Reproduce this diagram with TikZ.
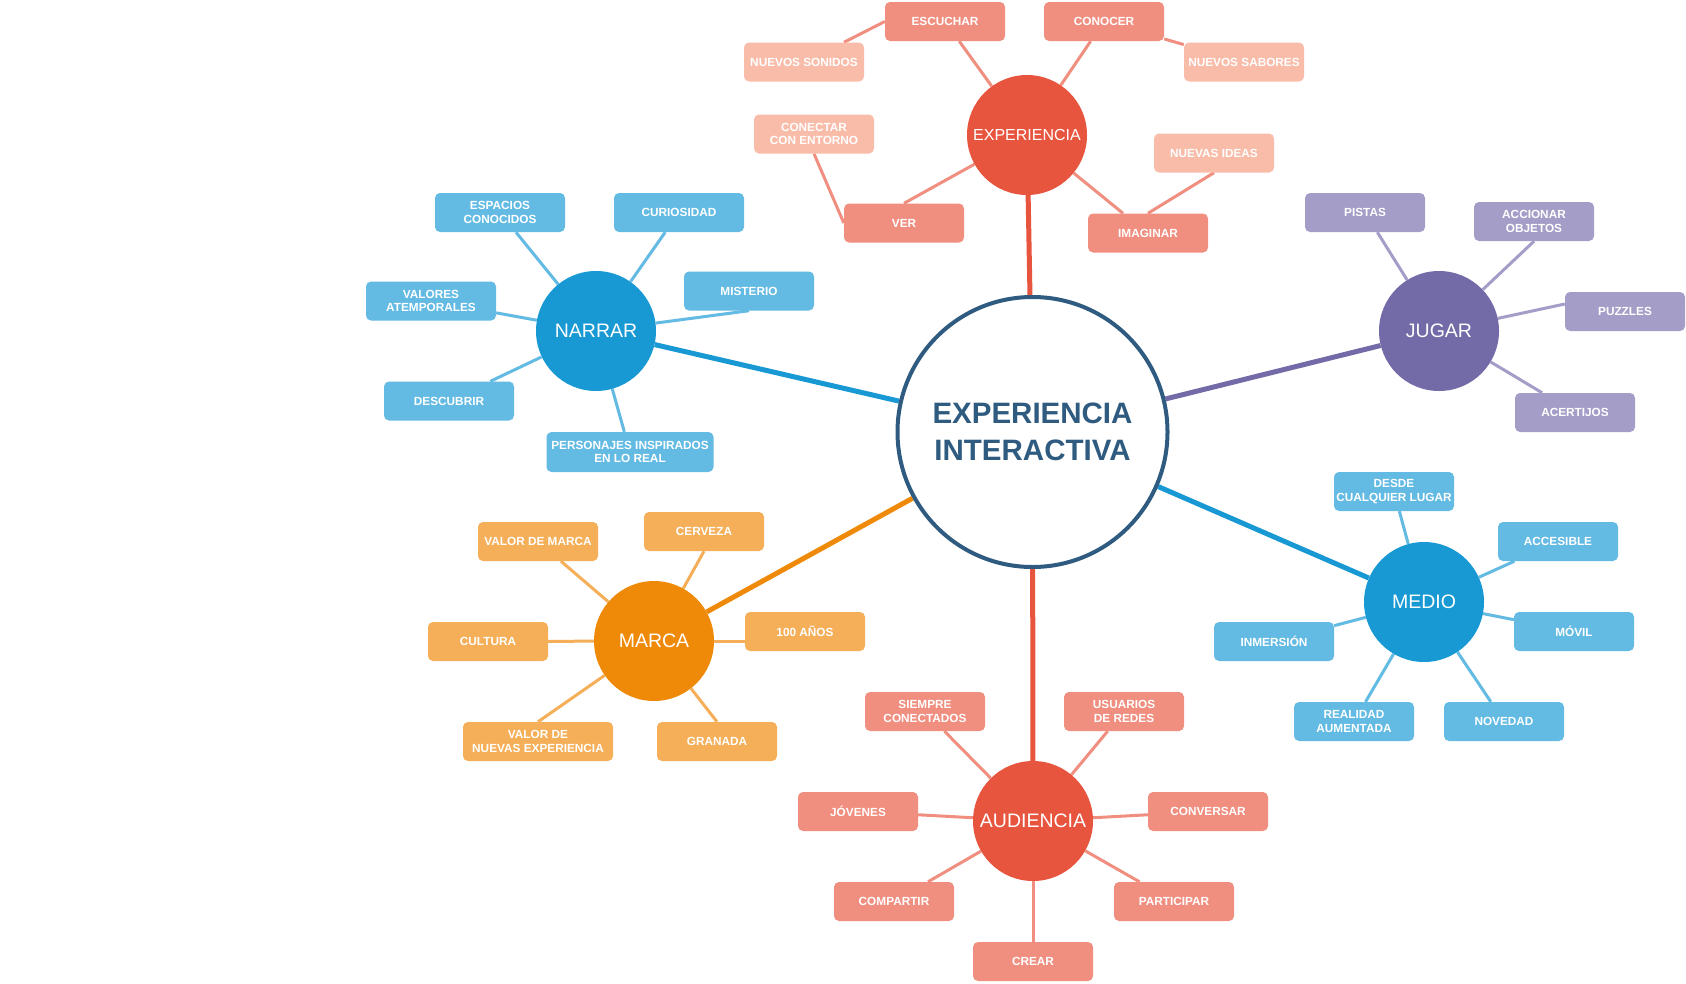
\documentclass[tikz,border=0pt]{standalone}
\usepackage{fontspec}
\setmainfont{Liberation Sans}
\usetikzlibrary{calc}
\pgfdeclarelayer{bottom}
\pgfdeclarelayer{background}
\pgfsetlayers{bottom,background,main}
\definecolor{cred}{HTML}{E8553F}
\definecolor{csal}{HTML}{F08E80}
\definecolor{clsal}{HTML}{F9BCA9}
\definecolor{cblue}{HTML}{1899D4}
\definecolor{clblue}{HTML}{63BAE3}
\definecolor{cpur}{HTML}{736BA7}
\definecolor{clpur}{HTML}{A39DC7}
\definecolor{corg}{HTML}{EF8A08}
\definecolor{clorg}{HTML}{F5AF59}
\definecolor{cnavy}{HTML}{2E5B7F}
\tikzset{
  box/.style={rounded corners=5pt, minimum width=120pt, minimum height=39pt, inner sep=0pt,
    align=center, text=white, font=\fontsize{11.8}{13.7}\selectfont\bfseries},
  wide/.style={minimum width=130pt},
  hub/.style={circle, minimum size=120pt, inner sep=0pt, text=white,
    font=\fontsize{19.5}{22}\selectfont},
  core/.style={circle, draw=cnavy, line width=4pt, fill=white, minimum size=270pt, inner sep=0pt,
    align=center, text=cnavy, font=\fontsize{29.5}{36.7}\selectfont\bfseries},
  mainln/.style={line width=5pt},
  subln/.style={line width=3pt},
}
\begin{document}
\begin{tikzpicture}[x=1pt,y=-1pt]
\begin{pgfonlayer}{bottom}
\fill[white] (0,0) rectangle (1686,983);
\end{pgfonlayer}
\useasboundingbox (0,0) rectangle (1686,983);

% core
\node[core] (core) at (1032.5,432) {EXPERIENCIA\\INTERACTIVA};

% EXPERIENCIA group
\node[hub, fill=cred, font=\fontsize{16}{18}\selectfont] (exp) at (1027,135) {EXPERIENCIA};
\node[box, fill=csal] (escuchar) at (945,21.5) {ESCUCHAR};
\node[box, fill=csal] (conocer) at (1104,21.5) {CONOCER};
\node[box, fill=clsal] (nsonidos) at (804,62) {NUEVOS SONIDOS};
\node[box, fill=clsal] (nsabores) at (1244,62) {NUEVOS SABORES};
\node[box, fill=clsal] (conectar) at (814,134) {CONECTAR\\CON ENTORNO};
\node[box, fill=csal] (ver) at (904,223) {VER};
\node[box, fill=csal] (imaginar) at (1148,233) {IMAGINAR};
\node[box, fill=clsal] (nideas) at (1214,153) {NUEVAS IDEAS};

% NARRAR group
\node[hub, fill=cblue] (narrar) at (596,331) {NARRAR};
\node[box, wide, fill=clblue] (espacios) at (500,212.5) {ESPACIOS\\CONOCIDOS};
\node[box, wide, fill=clblue] (curiosidad) at (679,212.5) {CURIOSIDAD};
\node[box, wide, fill=clblue] (valores) at (431,301) {VALORES\\ATEMPORALES};
\node[box, wide, fill=clblue] (misterio) at (749,291) {MISTERIO};
\node[box, wide, fill=clblue] (descubrir) at (449,401) {DESCUBRIR};
\node[box, fill=clblue, minimum width=167pt, minimum height=40pt] (personajes) at (630,452) {PERSONAJES INSPIRADOS\\EN LO REAL};

% JUGAR group
\node[hub, fill=cpur] (jugar) at (1439,331) {JUGAR};
\node[box, fill=clpur] (pistas) at (1365,212.5) {PISTAS};
\node[box, fill=clpur] (accionar) at (1534,221.5) {ACCIONAR\\OBJETOS};
\node[box, fill=clpur] (puzzles) at (1625,311.5) {PUZZLES};
\node[box, fill=clpur] (acertijos) at (1575,412.5) {ACERTIJOS};

% MEDIO group
\node[hub, fill=cblue] (medio) at (1424,602) {MEDIO};
\node[box, fill=clblue] (desde) at (1394,491.5) {DESDE\\CUALQUIER LUGAR};
\node[box, fill=clblue] (accesible) at (1558,541.5) {ACCESIBLE};
\node[box, fill=clblue] (movil) at (1574,631.5) {MÓVIL};
\node[box, fill=clblue] (inmersion) at (1274,641.5) {INMERSIÓN};
\node[box, fill=clblue] (realidad) at (1354,721.5) {REALIDAD\\AUMENTADA};
\node[box, fill=clblue] (novedad) at (1504,721.5) {NOVEDAD};

% MARCA group
\node[hub, fill=corg] (marca) at (654,641) {MARCA};
\node[box, fill=clorg] (vmarca) at (538,541.5) {VALOR DE MARCA};
\node[box, fill=clorg] (cerveza) at (704,531.5) {CERVEZA};
\node[box, fill=clorg] (cultura) at (488,641.5) {CULTURA};
\node[box, fill=clorg] (anos) at (805,631.5) {100 AÑOS};
\node[box, fill=clorg, minimum width=150pt] (vdne) at (538,741.5) {VALOR DE\\NUEVAS EXPERIENCIA};
\node[box, fill=clorg] (granada) at (717,741.5) {GRANADA};

% AUDIENCIA group
\node[hub, fill=cred] (audiencia) at (1033,821) {AUDIENCIA};
\node[box, fill=csal] (siempre) at (925,711.5) {SIEMPRE\\CONECTADOS};
\node[box, fill=csal] (usuarios) at (1124,711.5) {USUARIOS\\DE REDES};
\node[box, fill=csal] (jovenes) at (858,811.5) {JÓVENES};
\node[box, fill=csal] (conversar) at (1208,811.5) {CONVERSAR};
\node[box, fill=csal] (compartir) at (894,901.5) {COMPARTIR};
\node[box, fill=csal] (participar) at (1174,901.5) {PARTICIPAR};
\node[box, fill=csal] (crear) at (1033,961.5) {CREAR};

\begin{pgfonlayer}{background}
% main connectors
\draw[mainln, cred] (exp) -- (core);
\draw[mainln, cred] (audiencia) -- (core);
\draw[mainln, cblue] (narrar) -- (core);
\draw[mainln, cblue] (medio) -- (core);
\draw[mainln, cpur] (jugar) -- (core);
\draw[mainln, corg] (marca) -- (core);

% EXPERIENCIA
\draw[subln, csal] (escuchar) -- (exp);
\draw[subln, csal] (conocer) -- (exp);
\draw[subln, csal] ($(nsonidos.north)+(40,0)$) -- (escuchar.west);
\draw[subln, csal] (conocer) -- (nsabores);
\draw[subln, csal] (conectar.south) -- (ver.west);
\draw[subln, csal] (ver.north) -- (exp);
\draw[subln, csal] ($(imaginar.north)+(-25,0)$) -- (exp);
\draw[subln, csal] (nideas.south) -- (imaginar.north);

% NARRAR
\draw[subln, clblue] (espacios) -- (narrar);
\draw[subln, clblue] (curiosidad) -- (narrar);
\draw[subln, clblue] (valores) -- (narrar);
\draw[subln, clblue] (misterio.south) -- (narrar);
\draw[subln, clblue] (descubrir) -- (narrar);
\draw[subln, clblue] (personajes) -- (narrar);

% JUGAR
\draw[subln, clpur] (pistas) -- (jugar);
\draw[subln, clpur] (accionar.south) -- (jugar);
\draw[subln, clpur] ($(puzzles.west)+(0,-7.5)$) -- (jugar);
\draw[subln, clpur] (acertijos) -- (jugar);

% MEDIO
\draw[subln, clblue] (desde) -- (medio);
\draw[subln, clblue] (accesible) -- (medio);
\draw[subln, clblue] (movil) -- (medio);
\draw[subln, clblue] (inmersion) -- (medio);
\draw[subln, clblue] (realidad) -- (medio);
\draw[subln, clblue] (novedad) -- (medio);

% MARCA
\draw[subln, clorg] (vmarca) -- (marca);
\draw[subln, clorg] (cerveza.south) -- (marca);
\draw[subln, clorg] (cultura) -- (marca);
\draw[subln, clorg] (anos.west |- marca) -- (marca);
\draw[subln, clorg] (vdne.north) -- (marca);
\draw[subln, clorg] (granada.north) -- (marca);

% AUDIENCIA
\draw[subln, csal] (siempre) -- (audiencia);
\draw[subln, csal] (usuarios) -- (audiencia);
\draw[subln, csal] (jovenes) -- (audiencia);
\draw[subln, csal] (conversar) -- (audiencia);
\draw[subln, csal] (compartir) -- (audiencia);
\draw[subln, csal] (participar) -- (audiencia);
\draw[subln, csal] (crear) -- (audiencia);
\end{pgfonlayer}
\end{tikzpicture}
\end{document}
